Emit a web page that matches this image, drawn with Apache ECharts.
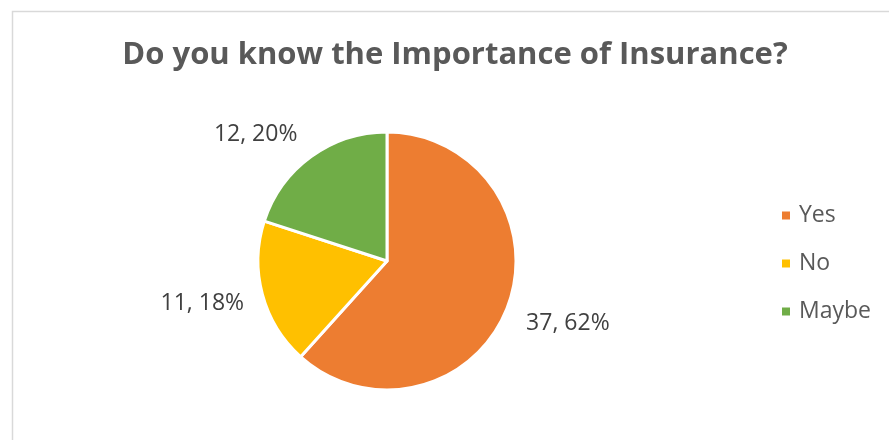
<!DOCTYPE html>
<html lang="en">
<head>
    <meta charset="UTF-8">
    <title>Insurance pie</title>
    <script src="https://cdn.jsdelivr.net/npm/echarts@6/dist/echarts.min.js"></script>
    <style>
        body { margin: 0; background: #fff; }
        #main { width: 889px; height: 440px; }
    </style>
</head>
<body>
    <div id="main"></div>
    <script>
        // chart data
        var categories = ['Yes', 'No', 'Maybe'];
        var values = [37, 11, 12];
        var colors = ['#ED7D31', '#FFC000', '#70AD47'];

        var pieData = [];
        for (var i = 0; i < categories.length; i++) {
            pieData.push({ name: categories[i], value: values[i], itemStyle: { color: colors[i] } });
        }

        // small nudges so labels sit where Excel put them
        var labelNudge = [[-5, 9], [6, 4], [3, -6]];

        var chart = echarts.init(document.getElementById('main'));
        var option = {
            backgroundColor: '#fff',
            animation: false,
            graphic: [{
                type: 'rect',
                left: 10, top: 9,
                shape: { width: 900, height: 500 },
                style: { fill: 'none', stroke: '#d9d9d9', lineWidth: 1.5 },
                silent: true
            }],
            title: {
                text: 'Do you know the Importance of Insurance?',
                left: 450, top: 35,
                textAlign: 'center',
                textStyle: { fontFamily: 'Open Sans', fontWeight: 'bold', fontSize: 31, color: '#595959' }
            },
            legend: {
                orient: 'vertical',
                left: 780, top: 204,
                padding: 0,
                itemWidth: 10, itemHeight: 10,
                itemGap: 25,
                icon: 'rect',
                data: categories,
                textStyle: { fontFamily: 'Open Sans', fontSize: 23, color: '#595959', lineHeight: 23, padding: [0, 0, 0, 3] }
            },
            series: [{
                type: 'pie',
                center: [387, 261],
                radius: 129,
                startAngle: 90,
                clockwise: true,
                avoidLabelOverlap: false,
                itemStyle: { borderColor: '#fff', borderWidth: 3 },
                label: {
                    show: true,
                    position: 'outside',
                    fontFamily: 'Open Sans',
                    fontSize: 23,
                    color: '#404040',
                    formatter: function (p) { return p.value + ', ' + Math.round(p.percent) + '%'; }
                },
                labelLine: { show: false, length: 20, length2: 0 },
                labelLayout: function (p) {
                    var n = labelNudge[p.dataIndex];
                    return { dx: n[0], dy: n[1] };
                },
                data: pieData
            }]
        };
        chart.setOption(option);
    </script>
</body>
</html>
